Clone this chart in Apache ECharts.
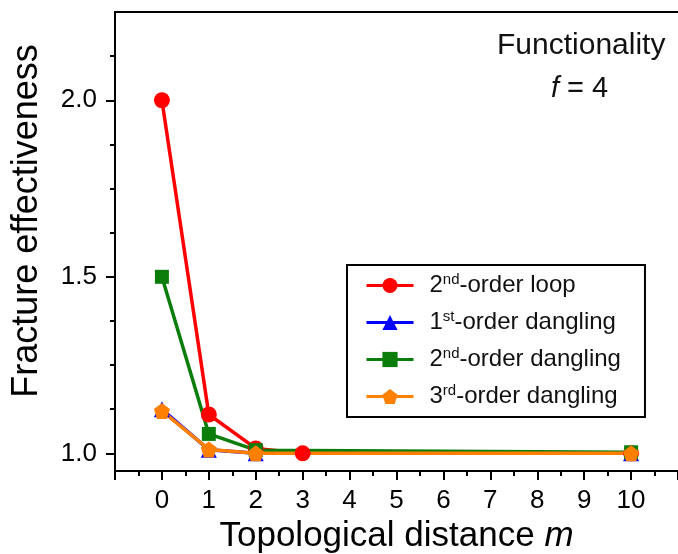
<!DOCTYPE html>
<html>
<head>
<meta charset="utf-8">
<script src="https://cdn.jsdelivr.net/npm/echarts@6/dist/echarts.min.js"></script>
<style>
  html, body { margin: 0; padding: 0; background: #fff; }
  #chart { width: 678px; height: 554px; }
</style>
</head>
<body>
<div id="chart"></div>
<script>
// data
const names = ['2nd-order loop', '1st-order dangling', '2nd-order dangling', '3rd-order dangling'];
const loop2 = [[0, 2.0], [1, 1.11], [2, 1.014], [3, 1.0], [10, 1.0]];
const dangling1 = [[0, 1.125], [1, 1.01], [2, 1.0], [10, 1.0]];
const dangling2 = [[0, 1.5], [1, 1.055], [2, 1.009], [10, 1.003]];
const dangling3 = [[0, 1.12], [1, 1.011], [2, 1.0], [10, 1.0]];
const xLabels = [0, 1, 2, 3, 4, 5, 6, 7, 8, 9, 10];
const yMajor = [1.0, 1.5, 2.0];
const yMinor = [1.125, 1.25, 1.375, 1.625, 1.75, 1.875, 2.125];

const FONT = '"Liberation Sans", Arial, sans-serif';
const pentagon = 'path://M0,-10 L9.51,-3.09 L5.88,8.09 L-5.88,8.09 L-9.51,-3.09 Z';

// superscript label for the legend
const richNames = {
    '2nd-order loop': '{n|2}{s|nd}{n|-order loop}',
    '1st-order dangling': '{n|1}{s|st}{n|-order dangling}',
    '2nd-order dangling': '{n|2}{s|nd}{n|-order dangling}',
    '3rd-order dangling': '{n|3}{s|rd}{n|-order dangling}'
};

const myChart = echarts.init(document.getElementById('chart'));

function lineSeries(name, data, color, symbol, size) {
    return {
        name: name,
        type: 'line',
        data: data,
        symbol: symbol,
        symbolSize: size,
        lineStyle: { color: color, width: 3.5 },
        itemStyle: { color: color },
        z: 3
    };
}

const option = {
    animation: false,
    backgroundColor: '#fff',
    grid: { left: 115, right: 0, top: 12, bottom: 83, outerBoundsMode: 'none' },
    legend: {
        orient: 'vertical',
        left: 347,
        top: 265,
        padding: [7, 24, 7, 18],
        backgroundColor: '#fff',
        borderColor: '#000',
        borderWidth: 2,
        itemWidth: 47,
        itemHeight: 19,
        itemGap: 10,
        lineStyle: { width: 3 },
        data: names,
        formatter: function (name) { return richNames[name]; },
        textStyle: {
            padding: [0, 0, 0, 11],
            rich: {
                n: { fontFamily: FONT, fontSize: 24, color: '#111', lineHeight: 26 },
                s: { fontFamily: FONT, fontSize: 15, color: '#111', lineHeight: 26, padding: [0, 0, 12, 0] }
            }
        }
    },
    xAxis: [{
        type: 'value',
        min: -1,
        max: 11,
        interval: 1,
        name: 'Topological distance {i|m}',
        nameLocation: 'middle',
        nameGap: 48,
        nameTextStyle: {
            fontFamily: FONT, fontSize: 35, color: '#000',
            rich: { i: { fontFamily: FONT, fontSize: 35, fontStyle: 'italic', color: '#000' } }
        },
        axisLine: { onZero: false, lineStyle: { color: '#000', width: 2 } },
        axisTick: { length: 9, lineStyle: { color: '#000', width: 2 } },
        minorTick: { show: true, splitNumber: 2, length: 5, lineStyle: { color: '#000', width: 2 } },
        axisLabel: {
            customValues: xLabels,
            margin: 17,
            fontFamily: FONT, fontSize: 26, color: '#000'
        },
        splitLine: { show: false }
    }, {
        type: 'value',
        position: 'top',
        min: -1,
        max: 11,
        axisLine: { show: true, onZero: false, lineStyle: { color: '#000', width: 2 } },
        axisTick: { show: false },
        axisLabel: { show: false },
        splitLine: { show: false }
    }],
    yAxis: [{
        type: 'value',
        min: 0.95,
        max: 2.25,
        axisLine: { show: true, onZero: false, lineStyle: { color: '#000', width: 2 } },
        axisTick: { show: true, customValues: yMajor, length: 9, lineStyle: { color: '#000', width: 2 } },
        axisLabel: {
            customValues: yMajor,
            margin: 18,
            formatter: function (v) { return v.toFixed(1); },
            fontFamily: FONT, fontSize: 26, color: '#000'
        },
        splitLine: { show: false }
    }, {
        type: 'value',
        position: 'left',
        min: 0.95,
        max: 2.25,
        axisLine: { show: false, onZero: false },
        axisTick: { show: true, customValues: yMinor, length: 5, lineStyle: { color: '#000', width: 2 } },
        axisLabel: { show: false },
        splitLine: { show: false }
    }],
    graphic: [{
        // y axis title, sits a little above the middle of the axis
        type: 'text',
        x: 27,
        y: 221,
        rotation: Math.PI / 2,
        style: {
            text: 'Fracture effectiveness',
            font: '36px ' + FONT,
            fill: '#000',
            align: 'center',
            verticalAlign: 'middle'
        }
    }, {
        type: 'text',
        left: 497,
        top: 31,
        style: { text: 'Functionality', font: '30px ' + FONT, fill: '#111' }
    }, {
        type: 'text',
        left: 551,
        top: 74,
        style: {
            text: '{i|f}{n| = 4}',
            rich: {
                i: { fontFamily: FONT, fontSize: 29, fontStyle: 'italic', fill: '#111' },
                n: { fontFamily: FONT, fontSize: 29, fill: '#111' }
            }
        }
    }],
    series: [
        lineSeries(names[0], loop2, '#ff0000', 'circle', 16),
        lineSeries(names[1], dangling1, '#0000ff', 'triangle', 16),
        lineSeries(names[2], dangling2, '#0b7d0b', 'rect', 14),
        lineSeries(names[3], dangling3, '#ff8000', pentagon, 16)
    ]
};

myChart.setOption(option);
</script>
</body>
</html>
